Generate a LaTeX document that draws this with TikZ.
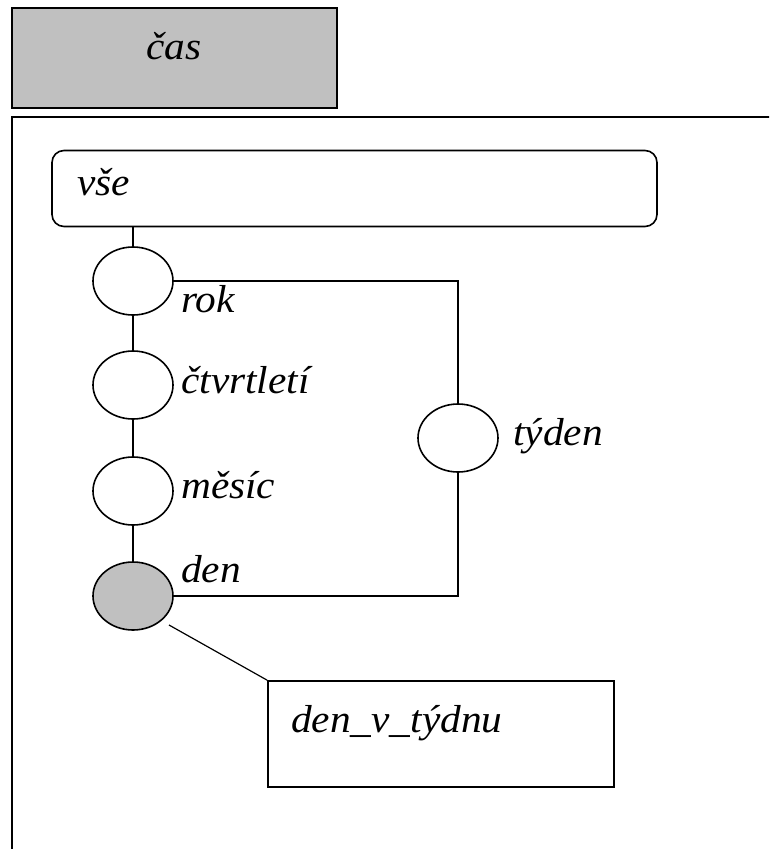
\documentclass[tikz,border=0pt]{standalone}
\usepackage{fontspec}
\setmainfont{Liberation Serif}[FakeStretch=1.06]
\usetikzlibrary{shapes.geometric}
\definecolor{silver}{HTML}{C0C0C0}
\begin{document}
\begin{tikzpicture}[x=1pt,y=-1pt,
  edge/.style={line width=1.6pt},
  box/.style={draw,line width=1.6pt,inner sep=0pt},
  lvl/.style={ellipse,draw,line width=1.6pt,minimum width=80pt,minimum height=68pt,inner sep=0pt},
  lbl/.style={anchor=base west,inner sep=0pt,font=\fontsize{39}{47}\selectfont\itshape},
]
\clip (0,0) rectangle (769,849);
\fill[white] (0,0) rectangle (769,849);

% dimension header and the panel below it
\node[box,fill=silver,minimum width=325pt,minimum height=100pt] (head) at (174.5,58) {};
\node[lbl,anchor=base] (headtxt) at (174,59) {čas};
\draw[line width=2.4pt] (12,117) rectangle (800,900);

% hierarchy levels
\node[box,rounded corners=12pt,minimum width=605pt,minimum height=76pt] (vse) at (354.5,188.5) {};
\node[lbl] (vsetxt) at (77,195) {vše};

\node[lvl] (rok) at (133,281) {};
\node[lvl] (ctv) at (133,385) {};
\node[lvl] (mes) at (133,491) {};
\node[lvl,fill=silver] (den) at (133,596) {};
\node[lvl] (tyd) at (458,438) {};

\node[lbl] (roktxt) at (181,312) {rok};
\node[lbl] (ctvtxt) at (181,393) {čtvrtletí};
\node[lbl] (mestxt) at (181,498) {měsíc};
\node[lbl] (dentxt) at (181,582) {den};
\node[lbl] (tydtxt) at (513,445) {týden};

% attribute box
\node[box,minimum width=346pt,minimum height=106pt] (dvt) at (441,734) {};
\node[lbl] (dvttxt) at (291,732) {den\_v\_týdnu};

% connectors
\draw[edge] (rok.north |- vse.south) -- (rok.north);
\draw[edge] (rok.south) -- (ctv.north);
\draw[edge] (ctv.south) -- (mes.north);
\draw[edge] (mes.south) -- (den.north);
\draw[edge] (rok.east) -- (tyd.north |- rok.east) -- (tyd.north);
\draw[edge] (den.east) -- (tyd.south |- den.east) -- (tyd.south);
\coordinate (dtail) at (169,625);
\draw[line width=1.2pt] (dtail) -- (dvt.north west);
\end{tikzpicture}
\end{document}
